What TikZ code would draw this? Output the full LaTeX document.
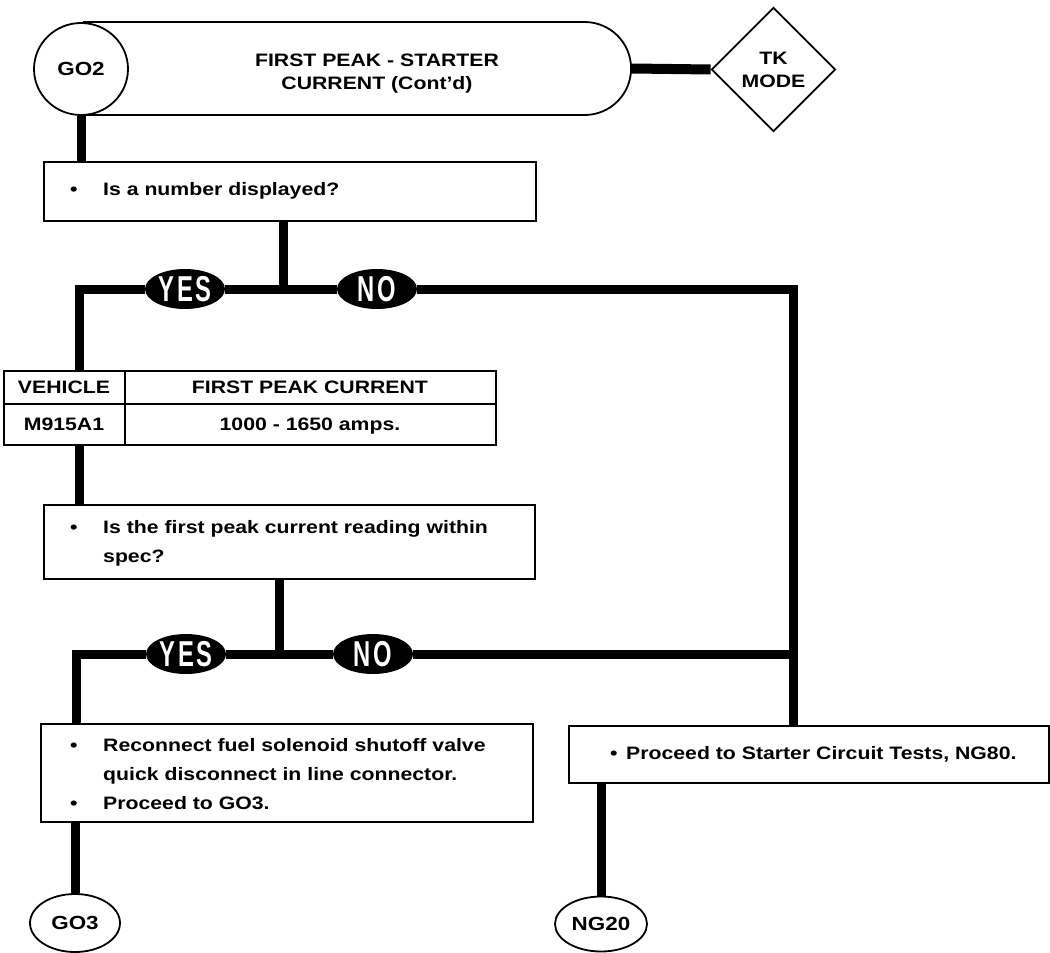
\documentclass[tikz,border=0pt]{standalone}
\usepackage{fontspec}
\setmainfont{Liberation Sans}[FakeStretch=1.18]
\newfontfamily\yesfont{Liberation Sans}[FakeStretch=0.66,LetterSpace=8]
\usetikzlibrary{shapes.geometric,shapes.misc}
\pgfdeclarelayer{bg}
\pgfsetlayers{bg,main}
\newcommand\bul{\makebox[33pt][l]{\textbullet}}
\newcommand\bulb{\makebox[16pt][l]{\textbullet}}
\begin{document}
\begin{tikzpicture}[x=1pt,y=-1pt,
  every node/.style={font=\fontsize{18}{23}\selectfont\bfseries, inner sep=0pt},
  conn/.style={line width=9pt},
  box/.style={draw, line width=2pt, fill=white, rectangle, anchor=north west},
  txt/.style={align=left, font=\fontsize{18}{29}\selectfont\bfseries},
  cell/.style={anchor=base},
  oval/.style={ellipse, draw, line width=1.8pt, fill=white, font=\fontsize{19}{23}\selectfont\bfseries},
  lab/.style={ellipse, fill=black, text=white, minimum width=80pt, minimum height=40pt, font=\yesfont\fontsize{36}{36}\selectfont\bfseries}]
\useasboundingbox (0,0) rectangle (1050,953);

% header
\node[rounded rectangle, rounded rectangle west arc=none, draw, line width=1.8pt, fill=white,
      minimum width=547pt, minimum height=93pt, anchor=east] (term) at (632,68.5) {};
\node[align=center] (ttl) at (377,74) {FIRST PEAK - STARTER\\CURRENT (Cont'd)};
\node[oval, minimum width=94pt, minimum height=92pt] (go2) at (81,69) {GO2};
\node[diamond, draw, line width=1.8pt, fill=white, minimum width=124pt, minimum height=124pt, align=center] (tk) at (773.5,69.5) {TK\\MODE};

% first question
\node[box, minimum width=492pt, minimum height=59pt] (q1) at (43,161) {};
\node[txt, anchor=west] (q1t) at (70,191) {\bul Is a number displayed?};
\coordinate (j1) at (283,289);
\coordinate (c1) at (79,289);
\coordinate (c2) at (793,289);
\node[lab] (yes1) at (185,289) {YES};
\node[lab] (no1) at (377,289) {NO};

% table
\node[box, minimum width=492pt, minimum height=74pt] (tbl) at (3,370) {};
\draw[line width=1.6pt] (125,370) -- (125,444);
\draw[line width=1.6pt] (3,404) -- (495,404);
\node[cell] (t11) at (64,393.5) {VEHICLE};
\node[cell] (t12) at (310,393.5) {FIRST PEAK CURRENT};
\node[cell] (t21) at (64,430.5) {M915A1};
\node[cell] (t22) at (310,430.5) {1000 - 1650 amps.};

% second question
\node[box, minimum width=491pt, minimum height=74pt] (q2) at (43,504) {};
\node[txt, anchor=west] (q2t) at (70,543) {\bul Is the first peak current reading within\\\hspace*{33pt}spec?};
\coordinate (j2) at (279,654);
\coordinate (c3) at (76,654);
\coordinate (c4) at (793,654);
\node[lab] (yes2) at (186,654) {YES};
\node[lab] (no2) at (373,654) {NO};

% actions
\node[box, minimum width=492pt, minimum height=98pt] (a3) at (40,723) {};
\node[txt, anchor=west] (a3t) at (70,774) {\bul Reconnect fuel solenoid shutoff valve\\\hspace*{33pt}quick disconnect in line connector.\\\bul Proceed to GO3.};
\node[box, minimum width=480pt, minimum height=57pt] (a4) at (568,725) {};
\node[txt, anchor=west] (a4t) at (610,754) {\bulb Proceed to Starter Circuit Tests, NG80.};

% exits
\node[oval, minimum width=90pt, minimum height=58pt] (go3) at (75,923) {GO3};
\node[oval, minimum width=92pt, minimum height=55pt] (ng20) at (601,924) {NG20};

\begin{pgfonlayer}{bg}
\draw[conn] (go2.south) -- (q1.north -| go2.south);
\draw[line width=10pt] (term.east) -- (tk.west);
\draw[conn] (q1.south -| j1) -- (j1);
\draw[conn] (tbl.north -| c1) -- (c1) -- (yes1) -- (j1) -- (no1) -- (c2) -- (a4.north -| c2);
\draw[conn] (tbl.south -| c1) -- (q2.north -| c1);
\draw[conn] (q2.south -| j2) -- (j2);
\draw[conn] (a3.north -| c3) -- (c3) -- (yes2) -- (j2) -- (no2) -- (c4);
\draw[conn] (a3.south -| go3.north) -- (go3.north);
\draw[conn] (a4.south -| ng20.north) -- (ng20.north);
\end{pgfonlayer}
\end{tikzpicture}
\end{document}
